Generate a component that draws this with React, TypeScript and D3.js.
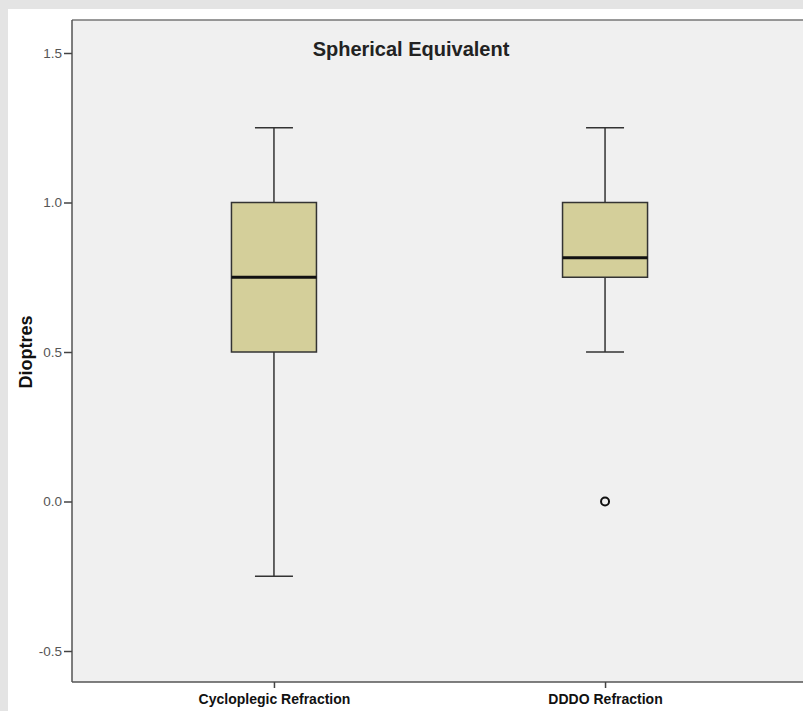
import React, { useEffect, useRef } from 'react';
import * as d3 from 'd3';

const groups = ['Cycloplegic Refraction', 'DDDO Refraction'];
const whiskerLow = [-0.25, 0.5];
const q1 = [0.5, 0.75];
const medians = [0.75, 0.815];
const q3 = [1.0, 1.0];
const whiskerHigh = [1.25, 1.25];
const outliers = [[], [0.0]];
const yTicks = [-0.5, 0.0, 0.5, 1.0, 1.5];

export default function App() {
    const ref = useRef<SVGSVGElement>(null);

    useEffect(() => {
        document.body.style.margin = '0';
        const svg = d3.select(ref.current);
        svg.selectAll('*').remove();

        const W = 803;
        const H = 711;
        const left = 72, top = 20, bottom = 682;
        const font = 'Liberation Sans, Arial, sans-serif';

        svg.append('rect').attr('width', W).attr('height', H).attr('fill', '#e4e4e4');
        svg.append('rect').attr('x', 8).attr('y', 9).attr('width', W - 8).attr('height', H - 9).attr('fill', '#ffffff');
        svg.append('rect').attr('x', left).attr('y', top).attr('width', W - left).attr('height', bottom - top).attr('fill', '#f0f0f0');

        const y = d3.scaleLinear().domain([-0.5, 1.5]).range([651, 53]);
        const x = d3.scalePoint<string>().domain(groups).range([left, 807]).padding(0.61);
        const boxW = 85;
        const capW = 38;

        // frame
        svg.append('line').attr('x1', left).attr('x2', W).attr('y1', top).attr('y2', top)
            .attr('stroke', '#777').attr('stroke-width', 1.5);

        // y axis
        const yAxis = svg.append('g').attr('transform', `translate(${left},0)`)
            .call(d3.axisLeft(y).tickValues(yTicks).tickFormat((d) => d3.format('.1f')(d as number).replace('−', '-')).tickSize(8).tickPadding(2));
        yAxis.select('.domain').attr('d', `M0,${top}V${bottom}`).attr('stroke', '#555').attr('stroke-width', 1.5);
        yAxis.selectAll('.tick line').attr('stroke', '#444').attr('stroke-width', 1.5);
        yAxis.selectAll('.tick text').attr('fill', '#555').attr('font-size', 13.5).attr('font-family', font);

        // x axis
        const xAxis = svg.append('g').attr('transform', `translate(0,${bottom})`)
            .call(d3.axisBottom(x).tickSize(6).tickPadding(6));
        xAxis.select('.domain').attr('d', `M${left},0H${W}`).attr('stroke', '#555').attr('stroke-width', 1.5);
        xAxis.selectAll('.tick line').attr('stroke', '#444').attr('stroke-width', 1.5);
        xAxis.selectAll('.tick text').attr('fill', '#111').attr('font-size', 14).attr('font-weight', 'bold')
            .attr('font-family', font);

        // boxes
        groups.forEach((g, i) => {
            const cx = x(g)!;
            const gg = svg.append('g');
            gg.append('line').attr('x1', cx).attr('x2', cx).attr('y1', y(whiskerHigh[i])).attr('y2', y(q3[i]))
                .attr('stroke', '#333').attr('stroke-width', 1.5);
            gg.append('line').attr('x1', cx).attr('x2', cx).attr('y1', y(q1[i])).attr('y2', y(whiskerLow[i]))
                .attr('stroke', '#333').attr('stroke-width', 1.5);
            [whiskerHigh[i], whiskerLow[i]].forEach((v) => {
                gg.append('line').attr('x1', cx - capW / 2).attr('x2', cx + capW / 2).attr('y1', y(v)).attr('y2', y(v))
                    .attr('stroke', '#333').attr('stroke-width', 1.5);
            });
            gg.append('rect').attr('x', cx - boxW / 2).attr('y', y(q3[i]))
                .attr('width', boxW).attr('height', y(q1[i]) - y(q3[i]))
                .attr('fill', '#d4cf9a').attr('stroke', '#333').attr('stroke-width', 1.5);
            gg.append('line').attr('x1', cx - boxW / 2).attr('x2', cx + boxW / 2)
                .attr('y1', y(medians[i])).attr('y2', y(medians[i]))
                .attr('stroke', '#111').attr('stroke-width', 3);
            outliers[i].forEach((v) => {
                gg.append('circle').attr('cx', cx).attr('cy', y(v)).attr('r', 4)
                    .attr('fill', 'none').attr('stroke', '#111').attr('stroke-width', 2);
            });
        });

        // title
        svg.append('text').attr('x', 411).attr('y', 56).attr('text-anchor', 'middle')
            .attr('font-size', 20).attr('font-weight', 'bold').attr('fill', '#222')
            .attr('font-family', font)
            .text('Spherical Equivalent');

        // y label
        svg.append('text').attr('transform', `translate(32,${y(0.5)}) rotate(-90)`)
            .attr('text-anchor', 'middle').attr('font-size', 18).attr('font-weight', 'bold').attr('fill', '#111')
            .attr('font-family', font)
            .text('Dioptres');
    }, []);

    return <svg ref={ref} width={803} height={711} style={{ display: 'block' }} />;
}
